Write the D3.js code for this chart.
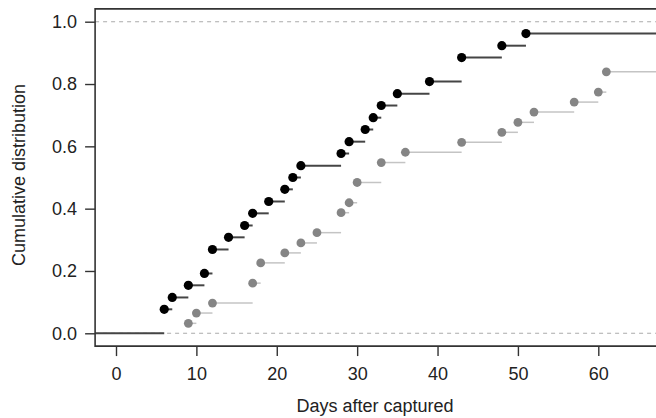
<!DOCTYPE html>
<html>
<head>
<meta charset="utf-8">
<script src="https://cdn.jsdelivr.net/npm/d3@7"></script>
<style>
  body { margin: 0; background: #fff; }
  svg { display: block; font-family: "Liberation Sans", Arial, sans-serif; }
  .tick text { font-size: 18px; fill: #222; }
  .tick line { stroke: #333; stroke-width: 1.4; }
</style>
</head>
<body>
<svg id="chart" width="656" height="418"></svg>
<script>
// ecdf of days after capture, two groups
var blackDays = [6, 7, 9, 11, 12, 14, 16, 17, 19, 21, 22, 23, 28, 29, 31, 32, 33, 35, 39, 43, 48, 51];
var blackCum  = [0.077, 0.115, 0.154, 0.192, 0.269, 0.308, 0.346, 0.385, 0.423, 0.462, 0.500,
                 0.538, 0.577, 0.615, 0.654, 0.692, 0.731, 0.769, 0.808, 0.885, 0.923, 0.962];
var grayDays  = [9, 10, 12, 17, 18, 21, 23, 25, 28, 29, 30, 33, 36, 43, 48, 50, 52, 57, 60, 61];
var grayCum   = [0.032, 0.065, 0.097, 0.161, 0.226, 0.258, 0.290, 0.323, 0.387, 0.419,
                 0.484, 0.548, 0.581, 0.613, 0.645, 0.677, 0.710, 0.742, 0.774, 0.839];
var xTicks = [0, 10, 20, 30, 40, 50, 60];
var yTicks = [0, 0.2, 0.4, 0.6, 0.8, 1.0];

var svg = d3.select('#chart');

var x = d3.scaleLinear().domain([0, 60]).range([116, 598.3]);
var y = d3.scaleLinear().domain([0, 1]).range([333.3, 21.7]);

var xMin = -2.6, xMax = 72;      // plot region runs past the right edge
var yMin = -0.041, yMax = 1.041;

// reference lines at 0 and 1
svg.selectAll('.ref')
  .data([0, 1])
  .enter()
  .append('line')
  .attr('x1', x(xMin)).attr('x2', x(xMax))
  .attr('y1', function (d) { return y(d); })
  .attr('y2', function (d) { return y(d); })
  .attr('stroke', '#aaa')
  .attr('stroke-width', 1.1)
  .attr('stroke-dasharray', '4,4');

function drawSeries(days, cum, lineColor, lineWidth, pointColor, r, startAtZero) {
  var g = svg.append('g');
  var segs = days.map(function (d, i) {
    return { x0: d, x1: i < days.length - 1 ? days[i + 1] : xMax, v: cum[i] };
  });
  if (startAtZero) segs.unshift({ x0: xMin, x1: days[0], v: 0 });

  g.selectAll('line')
    .data(segs)
    .enter()
    .append('line')
    .attr('x1', function (d) { return x(d.x0); })
    .attr('x2', function (d) { return x(d.x1); })
    .attr('y1', function (d) { return y(d.v); })
    .attr('y2', function (d) { return y(d.v); })
    .attr('stroke', lineColor)
    .attr('stroke-width', lineWidth);

  g.selectAll('circle')
    .data(days)
    .enter()
    .append('circle')
    .attr('cx', function (d) { return x(d); })
    .attr('cy', function (d, i) { return y(cum[i]); })
    .attr('r', r)
    .attr('fill', pointColor);
}

drawSeries(grayDays, grayCum, '#c4c4c4', 1.5, '#858585', 4.4, false);
drawSeries(blackDays, blackCum, '#454545', 2, '#000', 4.6, true);

// axes
var xAxis = d3.axisBottom(x).tickValues(xTicks).tickSize(10).tickPadding(11).tickSizeOuter(0);
var yAxis = d3.axisLeft(y).tickValues(yTicks).tickSize(10).tickPadding(8).tickSizeOuter(0)
  .tickFormat(d3.format('.1f'));

svg.append('g')
  .attr('transform', 'translate(0,' + y(yMin) + ')')
  .call(xAxis)
  .call(function (g) { g.select('.domain').remove(); });

svg.append('g')
  .attr('transform', 'translate(' + x(xMin) + ',0)')
  .call(yAxis)
  .call(function (g) { g.select('.domain').remove(); });

// box (right side is outside the window)
svg.append('path')
  .attr('d', 'M' + x(xMax) + ',' + y(yMax) + 'H' + x(xMin) + 'V' + y(yMin) + 'H' + x(xMax))
  .attr('fill', 'none')
  .attr('stroke', '#333')
  .attr('stroke-width', 1.6);

// axis titles
svg.append('text')
  .attr('x', 375)
  .attr('y', 412)
  .attr('text-anchor', 'middle')
  .attr('font-size', '18px')
  .attr('fill', '#222')
  .text('Days after captured');

svg.append('text')
  .attr('transform', 'translate(25,175) rotate(-90)')
  .attr('text-anchor', 'middle')
  .attr('font-size', '18px')
  .attr('fill', '#222')
  .text('Cumulative distribution');
</script>
</body>
</html>
